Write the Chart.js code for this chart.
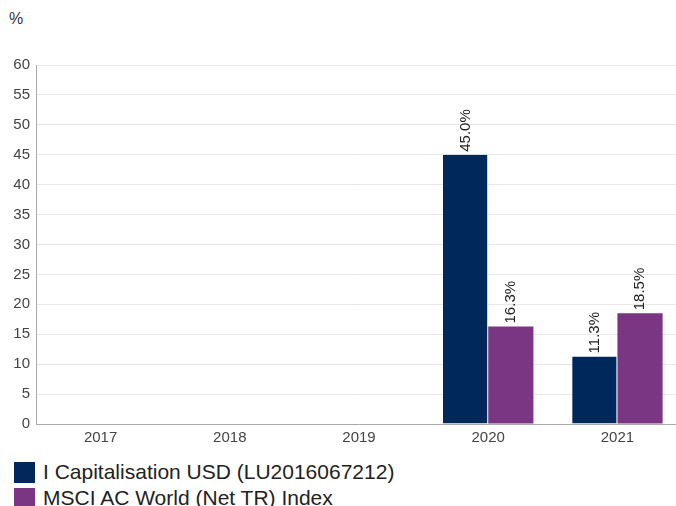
<!DOCTYPE html>
<html>
<head>
<meta charset="utf-8">
<script src="https://cdn.jsdelivr.net/npm/chart.js@4"></script>
<style>
  html, body { margin: 0; padding: 0; background: #fff; overflow: hidden; }
  body { width: 676px; height: 506px; position: relative; font-family: "Liberation Sans", Arial, sans-serif; }
  #unit { position: absolute; left: 9px; top: 10px; font-size: 16px; color: #333; }
  #wrap { position: absolute; left: 0; top: 0; width: 682px; height: 452px; }
  #legend { position: absolute; left: 14px; top: 459px; font-size: 21px; color: #222; line-height: 26px; }
  #legend div { display: flex; align-items: center; white-space: nowrap; }
  #legend span.box { display: inline-block; width: 21px; height: 21px; margin-right: 8px; }
</style>
</head>
<body>
<div id="unit">%</div>
<div id="wrap"><canvas id="perfChart"></canvas></div>
<div id="legend"></div>
<script>
// Data
const years = ['2017', '2018', '2019', '2020', '2021'];
const fundValues = [null, null, null, 45.0, 11.3];
const indexValues = [null, null, null, 16.3, 18.5];
const seriesNames = ['I Capitalisation USD (LU2016067212)', 'MSCI AC World (Net TR) Index'];
const seriesColors = ['#00285b', '#7b3683'];

// Value labels above bars, rotated
const barLabels = {
  id: 'barLabels',
  afterDatasetsDraw(chart) {
    const ctx = chart.ctx;
    ctx.save();
    ctx.font = '15px "Liberation Sans", Arial, sans-serif';
    ctx.fillStyle = '#222';
    ctx.textAlign = 'left';
    ctx.textBaseline = 'middle';
    chart.data.datasets.forEach((ds, i) => {
      chart.getDatasetMeta(i).data.forEach((bar, j) => {
        const v = ds.data[j];
        if (v === null) return;
        ctx.save();
        ctx.translate(bar.x, bar.y - 3);
        ctx.rotate(-Math.PI / 2);
        ctx.fillText(v.toFixed(1) + '%', 0, 0);
        ctx.restore();
      });
    });
    ctx.restore();
  }
};

const ctx = document.getElementById('perfChart').getContext('2d');
new Chart(ctx, {
  type: 'bar',
  data: {
    labels: years,
    datasets: [
      { label: seriesNames[0], data: fundValues, backgroundColor: seriesColors[0], borderColor: '#ffffff', borderWidth: { right: 1 } },
      { label: seriesNames[1], data: indexValues, backgroundColor: seriesColors[1], borderColor: '#ffffff', borderWidth: { left: 0 } }
    ]
  },
  options: {
    responsive: true,
    maintainAspectRatio: false,
    animation: false,
    layout: { padding: { top: 65, right: 0, left: 0, bottom: 0 } },
    datasets: { bar: { categoryPercentage: 0.7, barPercentage: 1.0 } },
    plugins: {
      legend: { display: false },
      tooltip: { enabled: false }
    },
    scales: {
      x: {
        grid: { display: false, drawTicks: false },
        border: { color: '#aaa' },
        ticks: { color: '#444', font: { size: 15, family: '"Liberation Sans", Arial, sans-serif' }, padding: 5 }
      },
      y: {
        min: 0, max: 60,
        afterFit(scale) { scale.width = 36; },
        grid: { color: '#e8e8e8', drawTicks: false },
        border: { color: '#aaa' },
        ticks: { stepSize: 5, color: '#444', font: { size: 15, family: '"Liberation Sans", Arial, sans-serif' }, padding: 6 }
      }
    }
  },
  plugins: [barLabels]
});

// Legend
const legend = document.getElementById('legend');
seriesNames.forEach((name, i) => {
  const row = document.createElement('div');
  row.innerHTML = '<span class="box" style="background:' + seriesColors[i] + '"></span>' + name;
  legend.appendChild(row);
});
</script>
</body>
</html>
